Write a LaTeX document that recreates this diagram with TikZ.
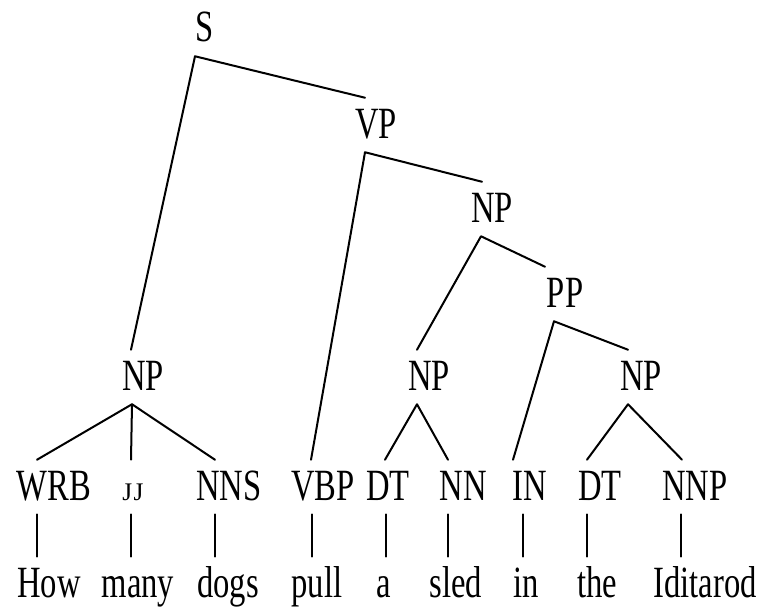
\documentclass[tikz,border=0pt]{standalone}
\usepackage{fontspec}
\setmainfont[FakeStretch=0.73]{Liberation Serif}
\newfontfamily\jjfont{Liberation Serif}
\begin{document}
\begin{tikzpicture}[x=0.75pt,y=-0.75pt,
  lab/.style={anchor=base,inner sep=0pt,text height=30pt,text depth=10.5pt,
    font=\fontsize{33.5pt}{36pt}\selectfont},
  word/.style={lab},
  edge/.style={line width=1.5pt,line cap=round,line join=round},
  dx/.style={xshift=#1*0.75pt}]
\useasboundingbox (0,0) rectangle (763,610);
% phrase nodes
\node[lab] (S) at (205,42) {S};
\node[lab] (VP) at (376,138) {VP};
\node[lab] (NP2) at (492,222) {NP};
\node[lab] (PP) at (565,307) {PP};
\node[lab] (NP1) at (143,390) {NP};
\node[lab] (NP3) at (429,390) {NP};
\node[lab] (NP4) at (641,390) {NP};
% tags
\node[lab] (WRB) at (54,500) {WRB};
\node[lab] (JJ) at (133,500) {\jjfont\fontsize{19pt}{20pt}\selectfont J\kern1pt J};
\node[lab] (NNS) at (229,500) {NNS};
\node[lab] (VBP) at (323,500) {VBP};
\node[lab] (DT) at (388,500) {DT};
\node[lab] (NN) at (463,500) {NN};
\node[lab] (IN) at (530,500) {IN};
\node[lab] (DTb) at (600,500) {DT};
\node[lab] (NNP) at (695,500) {NNP};
% words
\node[word] (How) at (49,597) {How};
\node[word] (many) at (138,597) {many};
\node[word] (dogs) at (228,597) {dogs};
\node[word] (pull) at (317,597) {pull};
\node[word] (a) at (384,597) {a};
\node[word] (sled) at (456,597) {sled};
\node[word] (in) at (526,597) {in};
\node[word] (the) at (597,597) {the};
\node[word] (Iditarod) at (705,597) {Iditarod};
% phrase edges
\draw[edge] ([dx=-12]NP1.north) -- ([dx=-10]S.south) -- ([dx=-11]VP.north);
\draw[edge] ([dx=-12]VBP.north) -- ([dx=-11]VP.south) -- ([dx=-10]NP2.north);
\draw[edge] ([dx=-12]NP3.north) -- ([dx=-11]NP2.south) -- ([dx=-20]PP.north);
\draw[edge] ([dx=-17]IN.north) -- ([dx=-11]PP.south) -- ([dx=-13]NP4.north);
\draw[edge] ([dx=-17]WRB.north) -- ([dx=-11]NP1.south) -- ([dx=-14]NNS.north);
\draw[edge] ([dx=-11]NP1.south) -- ([dx=-2]JJ.north);
\draw[edge] ([dx=-3]DT.north) -- ([dx=-12]NP3.south) -- ([dx=-15]NN.north);
\draw[edge] ([dx=-13]DTb.north) -- ([dx=-13]NP4.south) -- ([dx=-13]NNP.north);
% tag to word edges
\draw[edge] ([dx=-17]WRB.south) -- ([dx=-17]WRB.south |- How.north);
\draw[edge] ([dx=-2]JJ.south) -- ([dx=-2]JJ.south |- many.north);
\draw[edge] ([dx=-14]NNS.south) -- ([dx=-14]NNS.south |- dogs.north);
\draw[edge] ([dx=-11]VBP.south) -- ([dx=-11]VBP.south |- pull.north);
\draw[edge] ([dx=-2]DT.south) -- ([dx=-2]DT.south |- a.north);
\draw[edge] ([dx=-15]NN.south) -- ([dx=-15]NN.south |- sled.north);
\draw[edge] ([dx=-7]IN.south) -- ([dx=-7]IN.south |- in.north);
\draw[edge] ([dx=-13]DTb.south) -- ([dx=-13]DTb.south |- the.north);
\draw[edge] ([dx=-14]NNP.south) -- ([dx=-14]NNP.south |- Iditarod.north);
\end{tikzpicture}
\end{document}
